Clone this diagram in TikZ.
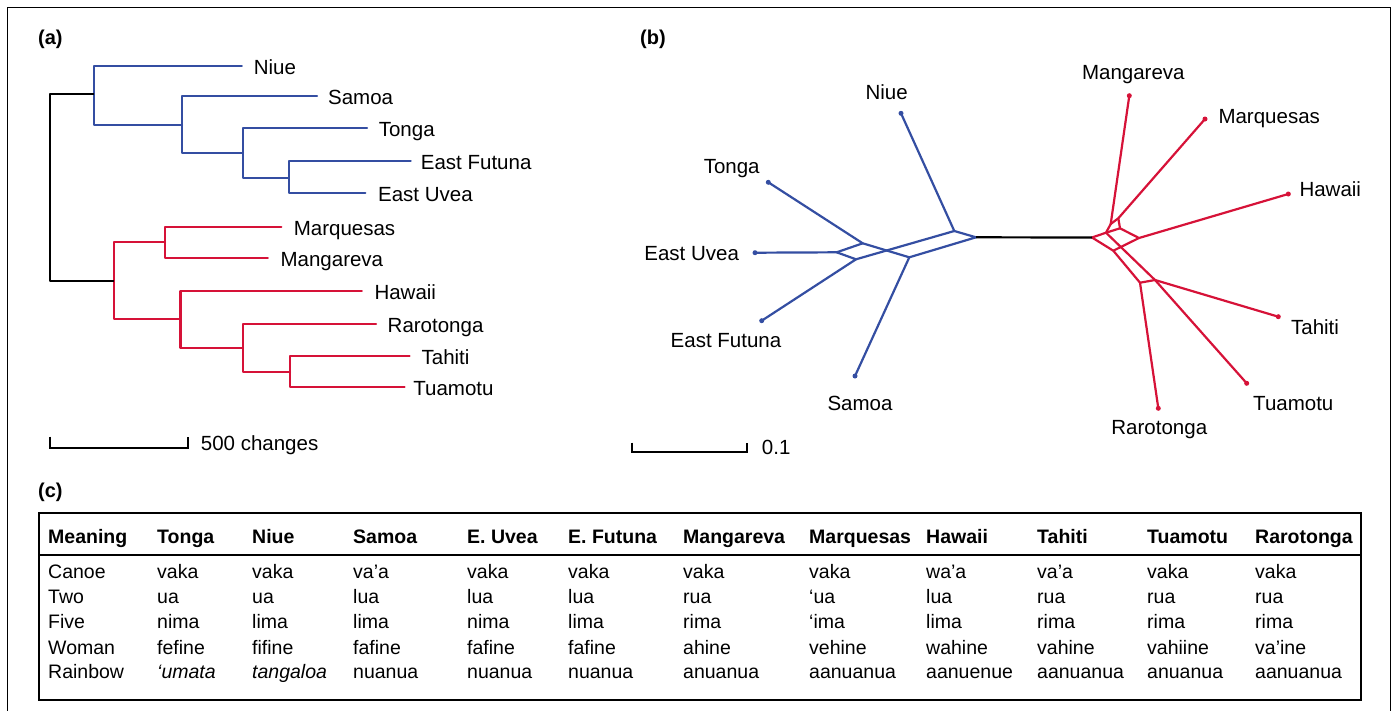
\documentclass[tikz,border=0pt]{standalone}
\usepackage{fontspec}
\setmainfont{Liberation Sans}
\definecolor{treeblue}{RGB}{52,78,162}
\definecolor{treered}{RGB}{214,18,56}
\newcommand\mytabrow[3]{%
  \foreach \txt [count=\c from 0] in {#3}{%
    \pgfmathsetmacro\xx{{48,157,252,353,467,568,683,809,926,1037,1147,1255}[\c]}%
    \node[td] (#1\c) at (\xx,#2) {\txt};}}
\begin{document}
\begin{tikzpicture}[x=1pt,y=-1pt,
  bl/.style={draw=treeblue,line width=2.2pt,line join=round,line cap=round},
  rd/.style={draw=treered,line width=2.2pt,line join=round,line cap=round},
  bk/.style={draw=black,line width=2.2pt,line join=round,line cap=round},
  lab/.style={inner sep=0pt,anchor=base,font=\fontsize{20.5}{24}\selectfont},
  labw/.style={lab,anchor=base west},
  pl/.style={inner sep=0pt,anchor=base west,font=\fontsize{20}{24}\selectfont\bfseries},
  th/.style={inner sep=0pt,anchor=base west,font=\fontsize{19.5}{23}\selectfont\bfseries},
  td/.style={inner sep=0pt,anchor=base west,font=\fontsize{19.5}{23}\selectfont},
  dotb/.style={circle,fill=treeblue,inner sep=0pt,minimum size=5pt},
  dotr/.style={circle,fill=treered,inner sep=0pt,minimum size=5pt},
  sbar/.style={draw=black,line width=2pt}]
\useasboundingbox (0,0) rectangle (1395,710);
% outer frame
\draw[line width=1pt] (7,712) -- (7,7) -- (1390,7) -- (1390,712);

% panel letters
\node[pl] (pa) at (38,44) {(a)};
\node[pl] (pb) at (640,44) {(b)};
\node[pl] (pc) at (38,497) {(c)};

% ---------------- panel (a): tree ----------------
\coordinate (rt) at (50,94.3);
\coordinate (rb) at (50,281);
\coordinate (a1) at (94,94.3);
\coordinate (a2) at (182.1,125);
\coordinate (a3) at (242.9,152.7);
\coordinate (a4) at (288.6,178.3);
\coordinate (n5) at (114.3,281);
\coordinate (n6) at (165,242.3);
\coordinate (n7) at (180.4,319);
\coordinate (n8) at (242.9,347.7);
\coordinate (n9) at (290,372.3);
\coordinate (tNiue) at (241.8,65.7);
\coordinate (tSamoa) at (317.1,95.7);
\coordinate (tTonga) at (367.1,128.3);
\coordinate (tEF) at (410.7,161);
\coordinate (tEU) at (365.4,193.3);
\coordinate (tMq) at (281.4,226.7);
\coordinate (tMg) at (267.9,258.3);
\coordinate (tHw) at (361.8,291);
\coordinate (tRr) at (376.1,324);
\coordinate (tTh) at (409.6,356);
\coordinate (tTu) at (404.6,386.7);

\draw[bl] (tNiue) -| (a1) |- (a2);
\draw[bl] (tSamoa) -| (a2) |- (a3);
\draw[bl] (tTonga) -| (a3) |- (a4);
\draw[bl] (tEF) -| (a4) |- (tEU);
\draw[rd] (tMq) -| (n6) |- (tMg);
\draw[rd] (n6) -| (n5) |- (n7);
\draw[rd] (tHw) -| (n7) |- (n8);
\draw[rd] (tRr) -| (n8) |- (n9);
\draw[rd] (tTh) -| (n9) |- (tTu);
\draw[bk,line cap=butt] (a1) -- (rt) -- (rb) -- (n5);

\node[labw] (LaNiue) at (253.6,74) {Niue};
\node[labw] (LaSamoa) at (327.9,104) {Samoa};
\node[labw] (LaTonga) at (378.6,136.6) {Tonga};
\node[labw] (LaEF) at (420.7,169.3) {East Futuna};
\node[labw] (LaEU) at (377.9,201.6) {East Uvea};
\node[labw] (LaMq) at (293.6,235) {Marquesas};
\node[labw] (LaMg) at (280.4,266.6) {Mangareva};
\node[labw] (LaHw) at (374.3,299.3) {Hawaii};
\node[labw] (LaRr) at (387.5,332.3) {Rarotonga};
\node[labw] (LaTh) at (421.4,364.3) {Tahiti};
\node[labw] (LaTu) at (413.2,395) {Tuamotu};

% scale bar (a)
\coordinate (sa1) at (50,436.7);
\coordinate (sa2) at (188.2,436.7);
\draw[sbar] (sa1) |- (sa2 |- 0,448.3) -- (sa2);
\node[labw] (sca) at (200.7,450) {500 changes};

% ---------------- panel (b): network ----------------
% blue group
\coordinate (E) at (954.3,231);
\coordinate (F) at (976,237.3);
\coordinate (B) at (909.3,257.3);
\coordinate (A) at (862.7,243.3);
\coordinate (C) at (836.7,252.3);
\coordinate (D) at (856,259.3);
\node[dotb] (lNiue) at (901,113.3) {};
\node[dotb] (lTonga) at (768.3,182.3) {};
\node[dotb] (lEU) at (755,252.7) {};
\node[dotb] (lEF) at (761.7,320.7) {};
\node[dotb] (lSamoa) at (855,376) {};
\draw[bl] (lNiue.center) -- (E) -- (F) -- (B) -- (lSamoa.center);
\draw[bl] (B) -- (A) -- (lTonga.center);
\draw[bl] (A) -- (C) -- (lEU.center);
\draw[bl] (C) -- (D) -- (lEF.center);
\draw[bl] (D) -- (E);

% red group
\coordinate (G) at (1092,237.5);
\coordinate (H) at (1106,232.7);
\coordinate (P1) at (1110.7,224);
\coordinate (P2) at (1118.3,218.3);
\coordinate (R1) at (1120,228.3);
\coordinate (S) at (1139,238);
\coordinate (I) at (1113.3,250.7);
\coordinate (U) at (1140,282.7);
\coordinate (T) at (1155,280);
\node[dotr] (lMg) at (1129.3,95.7) {};
\node[dotr] (lMq) at (1205,119) {};
\node[dotr] (lHw) at (1288.3,194) {};
\node[dotr] (lTh) at (1278.3,316.7) {};
\node[dotr] (lTu) at (1246.7,383.3) {};
\node[dotr] (lRr) at (1158.3,408.3) {};
\draw[rd] (G) -- (H) -- (P1) -- (lMg.center);
\draw[rd] (P1) -- (P2) -- (lMq.center);
\draw[rd] (P2) -- (R1) -- (S) -- (lHw.center);
\draw[rd] (H) -- (R1);
\draw[rd] (G) -- (I) -- (S);
\draw[rd] (H) -- (T) -- (lTh.center);
\draw[rd] (T) -- (lTu.center);
\draw[rd] (I) -- (U) -- (T);
\draw[rd] (U) -- (lRr.center);

% black link
\draw[bk,line cap=butt] (F) -- (G);

% labels (b)
\node[lab] (LbNiue) at (886.7,99.6) {Niue};
\node[lab] (LbTonga) at (731.7,173.3) {Tonga};
\node[lab] (LbEU) at (691.7,260) {East Uvea};
\node[lab] (LbEF) at (726,347.3) {East Futuna};
\node[lab] (LbSamoa) at (860,410.6) {Samoa};
\node[lab] (LbMg) at (1133.3,79) {Mangareva};
\node[labw] (LbMq) at (1218.3,123.3) {Marquesas};
\node[labw] (LbHw) at (1299.3,196.6) {Hawaii};
\node[lab] (LbTh) at (1315,334) {Tahiti};
\node[lab] (LbTu) at (1293.3,410) {Tuamotu};
\node[lab] (LbRr) at (1159.3,434) {Rarotonga};

% scale bar (b)
\coordinate (sb1) at (631.7,442.7);
\coordinate (sb2) at (746.7,442.7);
\draw[sbar] (sb1) |- (sb2 |- 0,451.7) -- (sb2);
\node[labw] (scb) at (761.7,454) {0.1};

% ---------------- panel (c): table ----------------
\coordinate (tbl) at (39.3,512.7);
\coordinate (tbr) at (1360.7,700);
\draw[line width=2pt] (tbl) rectangle (tbr);
\draw[line width=1.6pt] (tbl |- 0,555) -- (tbr |- 0,555);
\foreach \txt [count=\c from 0] in {Meaning,Tonga,Niue,Samoa,E. Uvea,E. Futuna,Mangareva,Marquesas,Hawaii,Tahiti,Tuamotu,Rarotonga}{%
  \pgfmathsetmacro\xx{{48,157,252,353,467,568,683,809,926,1037,1147,1255}[\c]}%
  \node[th] (h\c) at (\xx,543.7) {\txt};}
\mytabrow{ca}{578.5}{Canoe,vaka,vaka,va’a,vaka,vaka,vaka,vaka,wa’a,va’a,vaka,vaka}
\mytabrow{tw}{603.5}{Two,ua,ua,lua,lua,lua,rua,‘ua,lua,rua,rua,rua}
\mytabrow{fi}{628.5}{Five,nima,lima,lima,nima,lima,rima,‘ima,lima,rima,rima,rima}
\mytabrow{wo}{654}{Woman,fefine,fifine,fafine,fafine,fafine,ahine,vehine,wahine,vahine,vahiine,va’ine}
\mytabrow{ra}{678.5}{Rainbow,{\itshape ‘umata},{\itshape tangaloa},nuanua,nuanua,nuanua,anuanua,aanuanua,aanuenue,aanuanua,anuanua,aanuanua}
\end{tikzpicture}
\end{document}
